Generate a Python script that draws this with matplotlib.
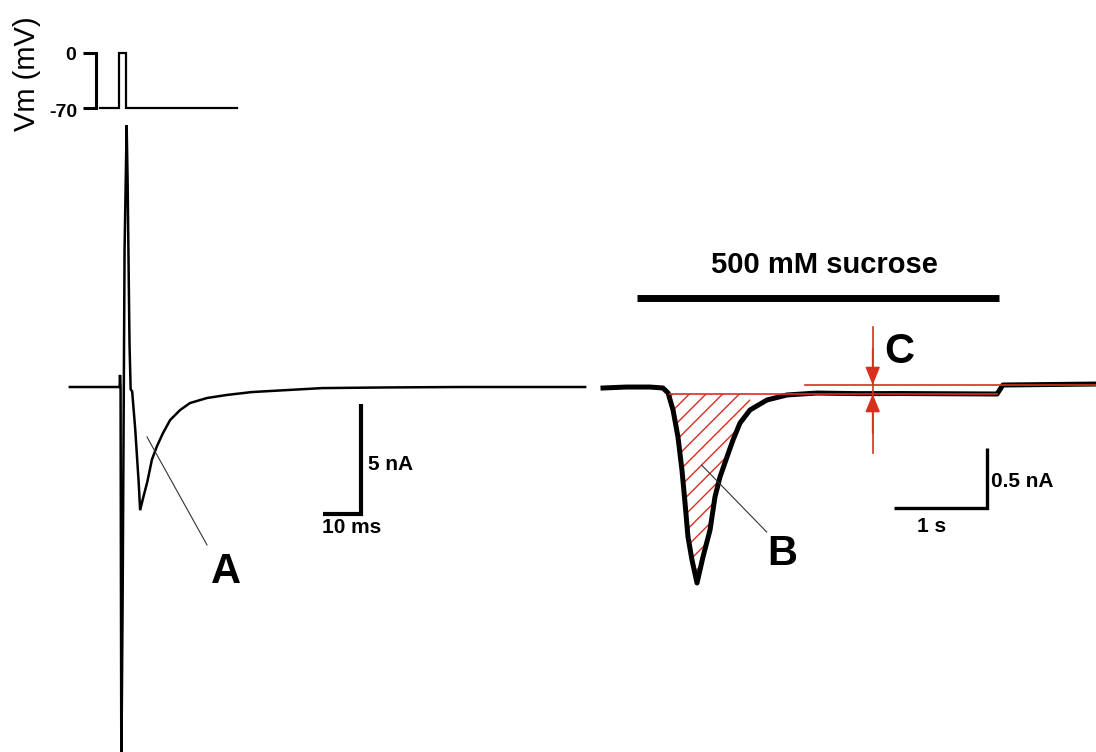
import numpy as np
import matplotlib
matplotlib.use("Agg")
import matplotlib.pyplot as plt

plt.rcParams['font.family'] = ['Liberation Sans', 'DejaVu Sans']
plt.rcParams['hatch.linewidth'] = 1.0

# ---------------- data ----------------
# Left: evoked current (time in ms, current in nA)
evoked_t = [-13.2, -0.8, -0.1, 0.0, 0.15, 0.35, 0.7, 1.2, 1.75, 2.0, 2.5, 2.8, 3.2,
            4.0, 4.9, 5.3, 6.0, 7.2, 8.4, 9.7, 11.3, 13.2, 15.8, 18.4, 22.9, 28.2,
            34.7, 43.9, 53.2, 70.0, 90.0, 122.4]
evoked_i = [0.0, 0.0, 0.0, 0.55, 0.0, -17.5, -9.5, 6.2, 11.9, 9.4, 2.0, -0.1, -0.2,
            -1.9, -4.3, -5.6, -5.1, -4.3, -3.3, -2.7, -2.1, -1.5, -1.05, -0.73, -0.5,
            -0.36, -0.23, -0.14, -0.05, -0.02, 0.0, 0.0]

# Inset: command potential (ms, mV)
vm_t = [-5.3, -0.3, -0.3, 1.6, 1.6, 30.8]
vm_v = [-70, -70, 0, 0, -70, -70]

# Right: sucrose-evoked current (time in s, current in nA)
sucrose_t = [0.0, 0.25, 0.505, 0.645, 0.70, 0.753, 0.806, 0.849, 0.882, 0.914, 0.957,
             1.011, 1.075, 1.151, 1.204, 1.258, 1.333, 1.398, 1.473, 1.581, 1.763,
             1.978, 2.30, 2.75, 3.19, 3.70, 4.237, 4.30, 4.80, 5.30]
sucrose_i = [-0.025, -0.017, -0.017, -0.025, -0.067, -0.208, -0.433, -0.708, -0.983,
             -1.267, -1.458, -1.65, -1.433, -1.208, -0.933, -0.767, -0.60, -0.458,
             -0.317, -0.208, -0.125, -0.083, -0.067, -0.072, -0.071, -0.073, -0.075,
             0.0, 0.004, 0.008]
steady_state = -0.075          # nA, level "C"
sucrose_on, sucrose_off = 0.366, 4.258   # s
rrp_window = (0.70, 1.63)      # s, hatched area "B"

# ---------------- figure ----------------
W, H = 1096, 752
fig = plt.figure(figsize=(W / 100, H / 100), dpi=100)

def full_axes(xlim, ylim):
    ax = fig.add_axes([0, 0, 1, 1], facecolor='none')
    ax.set_xlim(*xlim)
    ax.set_ylim(*ylim)
    ax.axis('off')
    return ax

axL = full_axes((-120 / 3.8, (W - 120) / 3.8), ((387 - H) / 22, 387 / 22))
axV = full_axes((-120 / 3.8, (W - 120) / 3.8), ((53 - H) / (55 / 70), 53 / (55 / 70)))
axR = full_axes((-603 / 93, (W - 603) / 93), ((385 - H) / 120, 385 / 120))

BLACK = 'black'
RED = '#d7301f'
bold = dict(fontweight='bold', color=BLACK)

# ---- left trace ----
axL.plot(evoked_t, evoked_i, color=BLACK, lw=1.8, solid_joinstyle='miter')
sb_x, sb_y = 63.4, -5.77
axL.plot([sb_x - 10, sb_x, sb_x], [sb_y, sb_y, sb_y + 5], color=BLACK, lw=3.0,
         solid_joinstyle='miter', solid_capstyle='butt')
axL.text(sb_x + 1.8, -3.77, '5 nA', fontsize=15, ha='left', va='baseline', **bold)
axL.text(sb_x - 2.4, -6.64, '10 ms', fontsize=15, ha='center', va='baseline', **bold)
axL.plot([7.1, 22.9], [-2.27, -7.18], color='#333333', lw=0.8)
axL.text(27.9, -8.91, 'A', fontsize=30, ha='center', va='baseline', **bold)

# ---- Vm inset ----
axV.plot(vm_t, vm_v, color=BLACK, lw=1.6, solid_joinstyle='miter')
br_x = -6.3
axV.plot([br_x - 3.4, br_x, br_x, br_x - 3.4], [0, 0, -70, -70], color=BLACK, lw=2.2,
         solid_joinstyle='miter', solid_capstyle='butt')
axV.text(-11.6, -8.9, '0', fontsize=14, ha='right', va='baseline', **bold)
axV.text(-11.3, -81.5, '-70', fontsize=14, ha='right', va='baseline', **bold)
axV.text(-24.5, -26.7, 'Vm (mV)', fontsize=21, rotation=90, ha='center', va='center',
         color=BLACK)

# ---- right trace ----
st = np.array(sucrose_t)
si = np.array(sucrose_i)
mask = (st >= rrp_window[0]) & (st <= rrp_window[1])
axR.fill_between(st[mask], si[mask], steady_state, where=si[mask] <= steady_state,
                 facecolor='none', edgecolor=RED, hatch='//', lw=0, interpolate=True)
axR.plot(st, si, color=BLACK, lw=3.6, solid_joinstyle='round')
axR.plot([0.72, 4.24], [steady_state, steady_state], color=RED, lw=1.2)
axR.plot([2.17, 5.30], [0, 0], color=RED, lw=1.2)
tC = 2.90
axR.plot([tC, tC], [0.483, -0.567], color=RED, lw=1.2)
arrow_style = dict(arrowstyle='-|>,head_length=1.1,head_width=0.45', color=RED,
                   lw=1.2, shrinkA=0, shrinkB=0, mutation_scale=10)
axR.annotate('', xy=(tC, 0), xytext=(tC, 0.3), arrowprops=arrow_style)
axR.annotate('', xy=(tC, steady_state), xytext=(tC, -0.4), arrowprops=arrow_style)
axR.text(3.19, 0.183, 'C', fontsize=30, ha='center', va='baseline', **bold)
axR.plot([1.06, 1.76], [-0.667, -1.225], color='#333333', lw=0.8)
axR.text(1.925, -1.5, 'B', fontsize=30, ha='center', va='baseline', **bold)
axR.plot([sucrose_on, sucrose_off], [0.725, 0.725], color=BLACK, lw=5.0,
         solid_capstyle='butt')
axR.text((sucrose_on + sucrose_off) / 2 + 0.07, 0.933, '500 mM sucrose', fontsize=21,
         ha='center', va='baseline', **bold)
rb_x, rb_y = 4.129, -1.025
axR.plot([rb_x - 1, rb_x, rb_x], [rb_y, rb_y, rb_y + 0.5], color=BLACK, lw=2.4,
         solid_joinstyle='miter', solid_capstyle='butt')
axR.text(rb_x + 0.04, -0.85, '0.5 nA', fontsize=15, ha='left', va='baseline', **bold)
axR.text(rb_x - 0.6, -1.225, '1 s', fontsize=15, ha='center', va='baseline', **bold)

fig.savefig('out.png', dpi=100, facecolor='white')
